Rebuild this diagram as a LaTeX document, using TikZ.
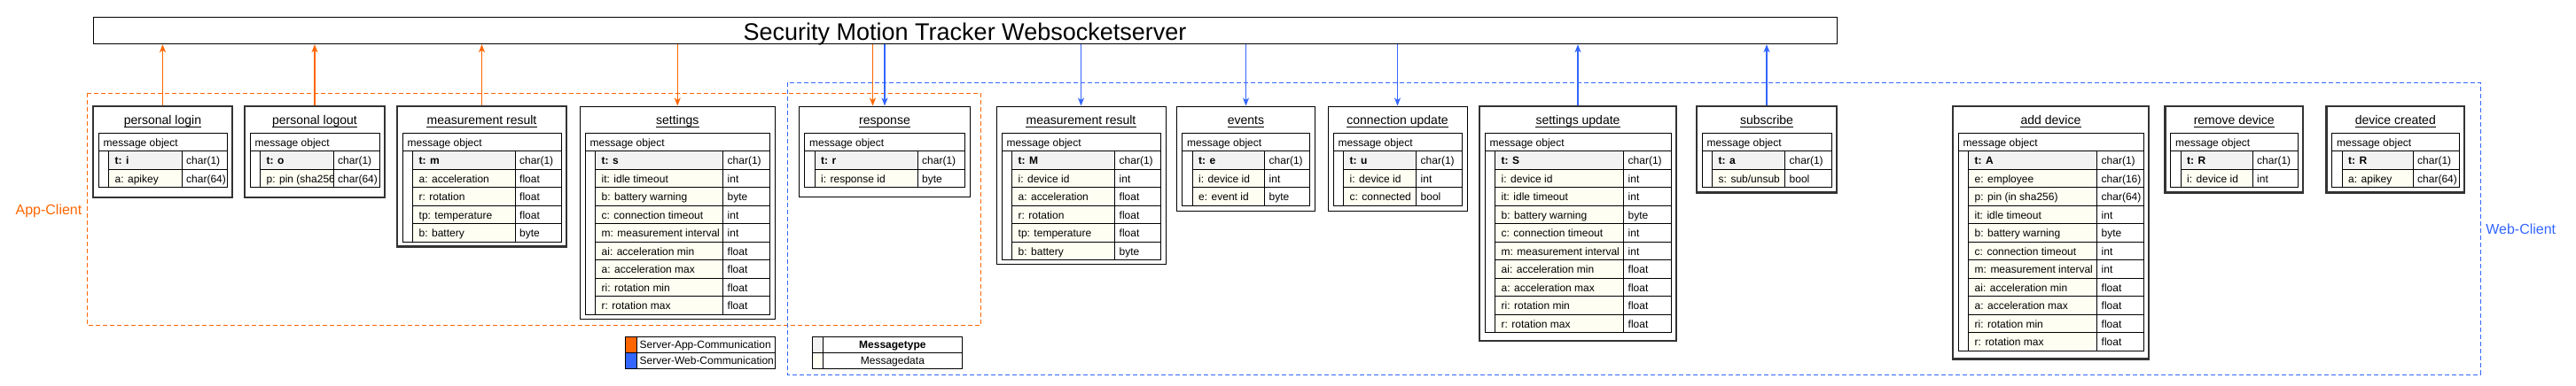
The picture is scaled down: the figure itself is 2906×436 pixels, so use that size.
\documentclass[tikz,border=0pt]{standalone}
\usepackage{fontspec}
\setmainfont{Liberation Sans}
\usetikzlibrary{arrows.meta,fit}
\definecolor{appcol}{HTML}{FF6600}
\definecolor{webcol}{HTML}{3366FF}
\definecolor{typefill}{HTML}{F2F2F2}
\definecolor{datafill}{HTML}{FEFEF2}
\tikzset{
  thinbox/.style={draw=black, line width=1pt, inner sep=0pt},
  thickbox/.style={draw=black!80, line width=2.6pt, inner sep=0pt},
  tablerule/.style={draw=black, line width=0.9pt},
  celltext/.style={anchor=base west, inner sep=0pt, font=\fontsize{12}{14}\selectfont},
  boxtitle/.style={anchor=base, inner sep=0pt, font=\fontsize{14}{16}\selectfont},
  clientframe/.style={dash pattern=on 5pt off 3pt, line width=0.9pt},
  clientlabel/.style={anchor=base, inner sep=0pt, font=\fontsize{16}{18}\selectfont},
  apparrow/.style={draw=appcol, line width=1.1pt, -{Stealth[length=9pt,width=7pt,inset=2.5pt]}},
  webarrow/.style={draw=webcol, line width=1.1pt, -{Stealth[length=9pt,width=7pt,inset=2.5pt]}}
}
\newcommand{\msgbox}[9]{%
  \node[#2, fit={(#3,120) (#4,#6)}] (#1) {};
  \node[boxtitle] (#1-title) at ({(#3+#4)/2},140.3) {#7};
  \draw[line width=0.8pt] ([yshift=-3pt]#1-title.base west) -- ([yshift=-3pt]#1-title.base east);
  \draw[tablerule] (#3+6,150) rectangle (#4-6,170.5);
  \node[celltext] at (#3+11.5,165) {message object};
  \draw[tablerule] (#3+6,170.5) rectangle (#3+17.5,{170.5+20.5*#8});
  \foreach \nm/\ty [count=\i] in {#9} {
    \pgfmathsetmacro{\ytop}{150+20.5*\i}
    \ifnum\i=1 \def\cellcol{typefill}\def\cellfont{\bfseries}\else\def\cellcol{datafill}\def\cellfont{}\fi
    \filldraw[tablerule, fill=\cellcol] (#3+17.5,\ytop) rectangle (#5,\ytop+20.5);
    \draw[tablerule] (#5,\ytop) rectangle (#4-6,\ytop+20.5);
    \node[celltext] at (#3+24.5,\ytop+15) {\cellfont\nm};
    \node[celltext] at (#5+5,\ytop+15) {\ty};
  }
}
\begin{document}
\begin{tikzpicture}[x=1pt, y=-1pt]
\useasboundingbox (0,0) rectangle (2906,436);
\draw[clientframe, appcol] (98.5,105) rectangle (1106,367.5);
\node[clientlabel, text=appcol] (applabel) at (55,242.3) {App-Client};
\draw[clientframe, webcol] (888,93) rectangle (2798,423);
\node[clientlabel, text=webcol] (weblabel) at (2843.7,264.4) {Web-Client};
\node[thinbox, fit={(105,19.5) (2072,49.7)}] (server) {};
\node[anchor=base, inner sep=0pt, font=\fontsize{27}{30}\selectfont] (servertitle) at (1088.5,45.3) {Security Motion Tracker Websocketserver};

\msgbox{plogin}{thickbox}{105}{262}{205}{223}{personal login}{2}{t: i/char(1), a: apikey/char(64)}
\msgbox{plogout}{thickbox}{276}{434}{376}{223}{personal logout}{2}{t: o/char(1), p: pin (sha256/char(64)}
\msgbox{mresapp}{thickbox}{448}{639}{581}{278.5}{measurement result}{5}{t: m/char(1), a: acceleration/float, r: rotation/float, tp: temperature/float, b: battery/byte}
\msgbox{settings}{thinbox}{654}{874.5}{815.5}{360}{settings}{9}{t: s/char(1), it: idle timeout/int, b: battery warning/byte, c: connection timeout/int, m: measurement interval/int, ai: acceleration min/float, a: acceleration max/float, ri: rotation min/float, r: rotation max/float}
\msgbox{response}{thinbox}{901.5}{1094.5}{1035}{222.5}{response}{2}{t: r/char(1), i: response id/byte}
\msgbox{mresweb}{thinbox}{1124}{1315}{1257.5}{298}{measurement result}{6}{t: M/char(1), i: device id/int, a: acceleration/float, r: rotation/float, tp: temperature/float, b: battery/byte}
\msgbox{events}{thinbox}{1327.5}{1483.5}{1426.5}{238}{events}{3}{t: e/char(1), i: device id/int, e: event id/byte}
\msgbox{connupd}{thinbox}{1498}{1655}{1597.5}{238}{connection update}{3}{t: u/char(1), i: device id/int, c: connected/bool}
\msgbox{setupd}{thickbox}{1669}{1891}{1831.5}{385}{settings update}{10}{t: S/char(1), i: device id/int, it: idle timeout/int, b: battery warning/byte, c: connection timeout/int, m: measurement interval/int, ai: acceleration min/float, a: acceleration max/float, ri: rotation min/float, r: rotation max/float}
\msgbox{subscribe}{thickbox}{1914}{2072}{2013.5}{217.5}{subscribe}{2}{t: a/char(1), {s: sub/unsub}/bool}
\msgbox{adddev}{thickbox}{2203}{2424}{2365.5}{405.5}{add device}{11}{t: A/char(1), e: employee/char(16), p: pin (in sha256)/char(64), it: idle timeout/int, b: battery warning/byte, c: connection timeout/int, m: measurement interval/int, ai: acceleration min/float, a: acceleration max/float, ri: rotation min/float, r: rotation max/float}
\msgbox{remdev}{thickbox}{2442.5}{2598}{2541}{217.5}{remove device}{2}{t: R/char(1), i: device id/int}
\msgbox{devcreated}{thickbox}{2624.5}{2780}{2722}{217.5}{device created}{2}{t: R/char(1), a: apikey/char(64)}

\draw[apparrow] (plogin.north) -- (plogin.north |- server.south);
\draw[apparrow] (plogout.north) -- (plogout.north |- server.south);
\draw[apparrow] (mresapp.north) -- (mresapp.north |- server.south);
\draw[apparrow] (server.south -| settings.north) -- (settings.north);
\coordinate (respapp) at ([xshift=-13.5pt]response.north);
\draw[apparrow] (server.south -| respapp) -- (respapp);
\draw[webarrow] (server.south -| response.north) -- (response.north);
\draw[webarrow] (server.south -| mresweb.north) -- (mresweb.north);
\draw[webarrow] (server.south -| events.north) -- (events.north);
\draw[webarrow] (server.south -| connupd.north) -- (connupd.north);
\draw[webarrow] (setupd.north) -- (setupd.north |- server.south);
\draw[webarrow] (subscribe.north) -- (subscribe.north |- server.south);

\fill[appcol] (705,380) rectangle (718.3,398);
\fill[webcol] (705,398) rectangle (718.3,416);
\draw[tablerule] (705,380) rectangle (874.5,416) (705,398) -- (874.5,398) (718.3,380) -- (718.3,416);
\node[celltext] (legapp) at (721.5,393.3) {Server-App-Communication};
\node[celltext] (legweb) at (721.5,411.4) {Server-Web-Communication};
\fill[typefill] (916.5,380) rectangle (928.4,398);
\fill[datafill] (916.5,398) rectangle (928.4,416);
\draw[tablerule] (916.5,380) rectangle (1085.3,416) (916.5,398) -- (1085.3,398) (928.4,380) -- (928.4,416);
\node[celltext, anchor=base] (legtype) at (1006.9,393.3) {\bfseries Messagetype};
\node[celltext, anchor=base] (legdata) at (1006.9,411.4) {Messagedata};
\end{tikzpicture}
\end{document}
